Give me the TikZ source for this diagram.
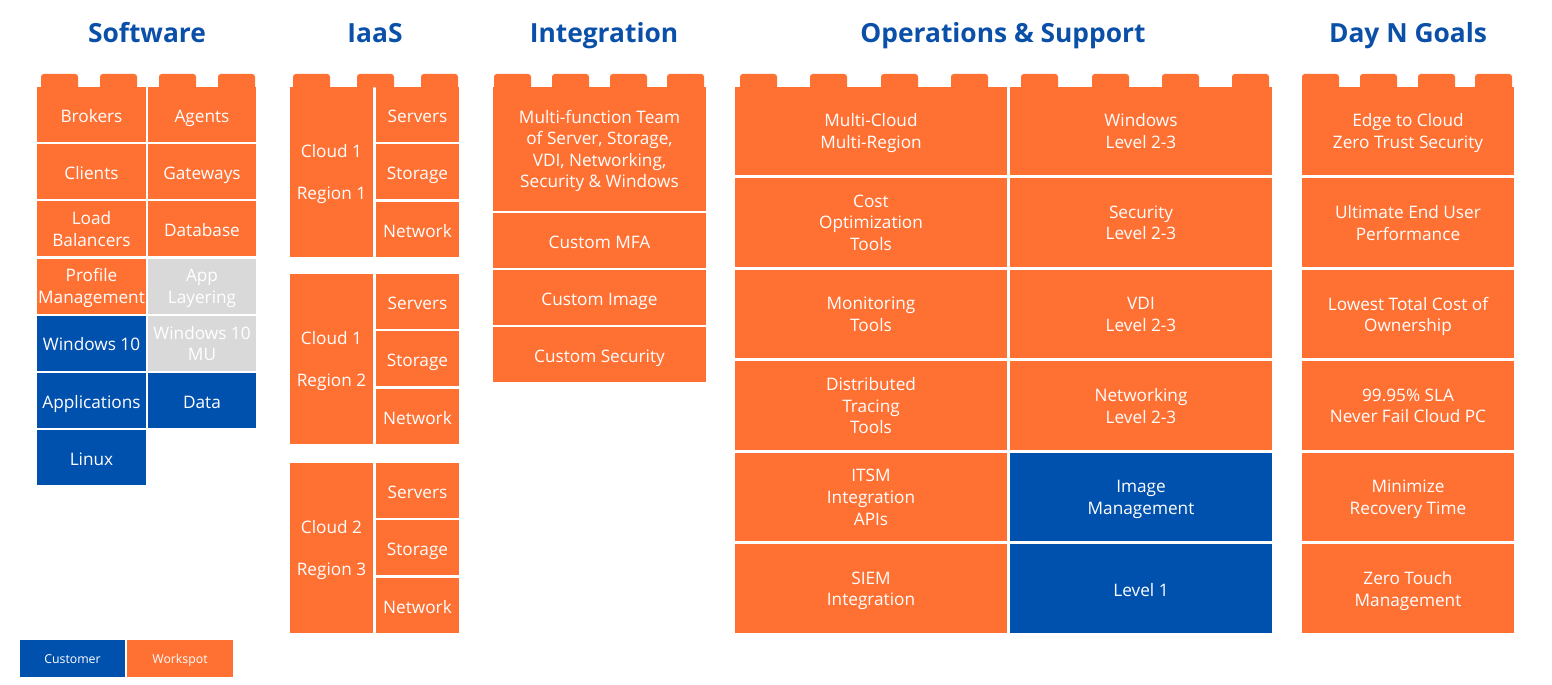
\documentclass[tikz,border=0pt]{standalone}
\usepackage{fontspec}
\setmainfont{Open Sans}
\usetikzlibrary{positioning}
\definecolor{wsorange}{HTML}{FF7033}
\definecolor{custblue}{HTML}{0050AE}
\definecolor{titleblue}{HTML}{0B50A8}
\definecolor{layergray}{HTML}{D9D9D9}
\tikzset{
    cell/.style 2 args={minimum width=#1*0.02cm, minimum height=#2*0.02cm,
        inner sep=0pt, align=center, text=white,
        font=\fontsize{9.8}{12.3}\selectfont,
        execute at begin node=\strut, text depth=-1.2pt},
    ws/.style={fill=wsorange},
    cust/.style={fill=custblue},
    layer/.style={fill=layergray},
    heading/.style={anchor=base, text=titleblue, font=\fontsize{15}{18}\selectfont\bfseries},
    legendbox/.style={cell={#1}{37}, font=\fontsize{7}{8}\selectfont}
}

\begin{document}
\begin{tikzpicture}[x=0.02cm, y=-0.02cm]
    \useasboundingbox (0,0) rectangle (1552,685);
    % column titles
    \node[heading] at (147,43) (tsoft) {Software};
    \node[heading] at (375,43) (tiaas) {IaaS};
    \node[heading] at (604,43) (tint) {Integration};
    \node[heading] at (1003,43) (tops) {Operations \& Support};
    \node[heading] at (1408,43) (tgoal) {Day N Goals};
    % brick studs
    \foreach \a in {41,100,159,218, 293,357,421, 494,552,610,667,
                    740,810,881,951,1021,1092,1162,1232, 1302,1360,1418,1475}
        \fill[wsorange, rounded corners=1.6pt] (\a,87.5) -- (\a,74) -- (\a+37,74) -- (\a+37,87.5);
    % software
    \node[cell={109}{55},ws] at (91.5,114.5) (brokers) {Brokers};
    \node[cell={109}{55},ws] at (91.5,171.7) (clients) {Clients};
    \node[cell={109}{55},ws] at (91.5,228.9) (lb) {Load\\Balancers};
    \node[cell={109}{55},ws] at (91.5,286.1) (profile) {Profile\\Management};
    \node[cell={109}{55},cust] at (91.5,343.3) (win10) {Windows 10};
    \node[cell={109}{55},cust] at (91.5,400.5) (apps) {Applications};
    \node[cell={109}{55},cust] at (91.5,457.7) (linux) {Linux};
    \node[cell={108}{55},ws] at (202,114.5) (agents) {Agents};
    \node[cell={108}{55},ws] at (202,171.7) (gateways) {Gateways};
    \node[cell={108}{55},ws] at (202,228.9) (database) {Database};
    \node[cell={108}{55},layer] at (202,286.1) (applayer) {App\\Layering};
    \node[cell={108}{55},layer] at (202,343.3) (win10mu) {Windows 10\\MU};
    \node[cell={108}{55},cust] at (202,400.5) (data) {Data};
    % iaas
    \node[cell={83}{170},ws] at (331.5,172) (cloudA) {Cloud 1\\[12pt]Region 1};
    \node[cell={83}{55},ws] at (417.5,114.5) (serversA) {Servers};
    \node[cell={83}{55},ws] at (417.5,172) (storageA) {Storage};
    \node[cell={83}{55},ws] at (417.5,229.5) (networkA) {Network};
    \node[cell={83}{170},ws] at (331.5,359) (cloudB) {Cloud 1\\[12pt]Region 2};
    \node[cell={83}{55},ws] at (417.5,301.5) (serversB) {Servers};
    \node[cell={83}{55},ws] at (417.5,359) (storageB) {Storage};
    \node[cell={83}{55},ws] at (417.5,416.5) (networkB) {Network};
    \node[cell={83}{170},ws] at (331.5,548) (cloudC) {Cloud 2\\[12pt]Region 3};
    \node[cell={83}{55},ws] at (417.5,490.5) (serversC) {Servers};
    \node[cell={83}{55},ws] at (417.5,548) (storageC) {Storage};
    \node[cell={83}{55},ws] at (417.5,605.5) (networkC) {Network};
    % integration
    \node[cell={213}{124},ws] at (599.5,149) (team) {Multi-function Team\\of Server, Storage,\\VDI, Networking,\\Security \& Windows};
    \node[cell={213}{55},ws] at (599.5,240.5) (mfa) {Custom MFA};
    \node[cell={213}{55},ws] at (599.5,297.5) (image) {Custom Image};
    \node[cell={213}{55},ws] at (599.5,355) (security) {Custom Security};
    % operations & support
    \node[cell={272}{88.5},ws] at (871,131.25) (multicloud) {Multi-Cloud\\Multi-Region};
    \node[cell={272}{88.5},ws] at (871,222.75) (cost) {Cost\\Optimization\\Tools};
    \node[cell={272}{88.5},ws] at (871,314.25) (monitor) {Monitoring\\Tools};
    \node[cell={272}{88.5},ws] at (871,405.75) (tracing) {Distributed\\Tracing\\Tools};
    \node[cell={272}{88.5},ws] at (871,497.25) (itsm) {ITSM\\Integration\\APIs};
    \node[cell={272}{88.5},ws] at (871,588.75) (siem) {SIEM\\Integration};
    \node[cell={262}{88.5},ws] at (1141,131.25) (winlvl) {Windows\\Level 2-3};
    \node[cell={262}{88.5},ws] at (1141,222.75) (seclvl) {Security\\Level 2-3};
    \node[cell={262}{88.5},ws] at (1141,314.25) (vdilvl) {VDI\\Level 2-3};
    \node[cell={262}{88.5},ws] at (1141,405.75) (netlvl) {Networking\\Level 2-3};
    \node[cell={262}{88.5},cust] at (1141,497.25) (imgmgmt) {Image\\Management};
    \node[cell={262}{88.5},cust] at (1141,588.75) (lvlone) {Level 1};
    % day n goals
    \node[cell={212}{88.5},ws] at (1408,131.25) (edge) {Edge to Cloud\\Zero Trust Security};
    \node[cell={212}{88.5},ws] at (1408,222.75) (perf) {Ultimate End User\\Performance};
    \node[cell={212}{88.5},ws] at (1408,314.25) (tco) {Lowest Total Cost of\\Ownership};
    \node[cell={212}{88.5},ws] at (1408,405.75) (sla) {99.95\% SLA\\Never Fail Cloud PC};
    \node[cell={212}{88.5},ws] at (1408,497.25) (recovery) {Minimize\\Recovery Time};
    \node[cell={212}{88.5},ws] at (1408,588.75) (touch) {Zero Touch\\Management};
    % legend
    \node[legendbox={105},cust] at (72.5,658.5) (lgcust) {Customer};
    \node[legendbox={106},ws] at (180,658.5) (lgws) {Workspot};
\end{tikzpicture}
\end{document}
